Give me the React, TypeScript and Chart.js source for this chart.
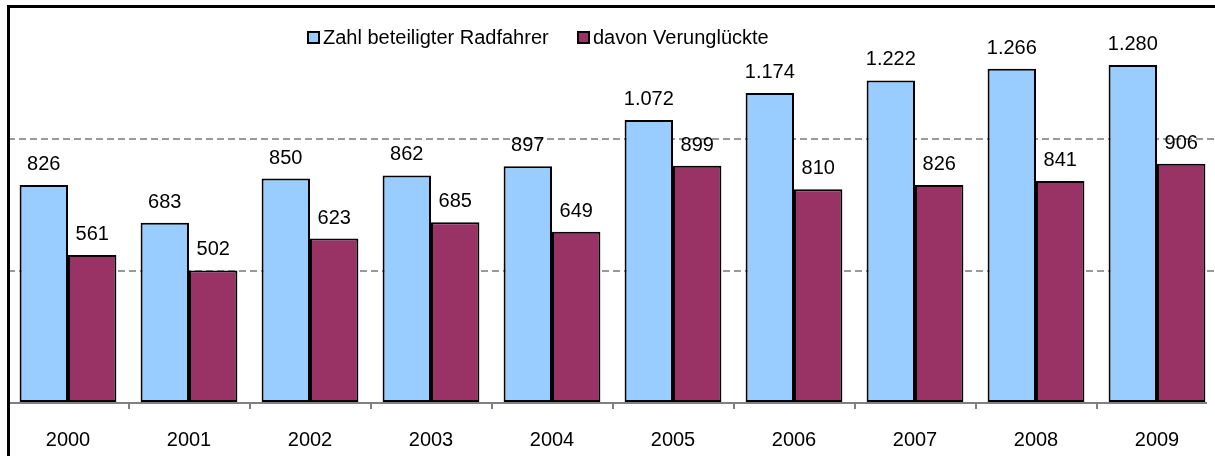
import React, { useEffect, useRef } from "react";
import { Chart, registerables } from "chart.js";

Chart.register(...registerables);

// ---- data ----
const years = ["2000", "2001", "2002", "2003", "2004", "2005", "2006", "2007", "2008", "2009"];
const radfahrer = [826, 683, 850, 862, 897, 1072, 1174, 1222, 1266, 1280];
const verunglueckte = [561, 502, 623, 685, 649, 899, 810, 826, 841, 906];
const seriesNames = ["Zahl beteiligter Radfahrer", "davon Verunglückte"];
const yMax = 1500;
const yStep = 500;

// ---- style ----
const FONT = "'Liberation Sans', Arial, Helvetica, sans-serif";
const FONT_SIZE = 20;
const BLUE = "#99CCFF";
const PURPLE = "#993366";

function fmt(v: number): string {
  return String(v).replace(/\B(?=(\d{3})+(?!\d))/g, ".");
}

const valueLabelPlugin = {
  id: "valueLabels",
  afterDatasetsDraw(chart: any) {
    const ctx = chart.ctx;
    ctx.save();
    ctx.font = `${FONT_SIZE}px ${FONT}`;
    ctx.fillStyle = "#000";
    ctx.textAlign = "center";
    ctx.textBaseline = "alphabetic";
    chart.data.datasets.forEach((ds: any, di: number) => {
      const meta = chart.getDatasetMeta(di);
      meta.data.forEach((bar: any, i: number) => {
        ctx.fillText(fmt(ds.data[i]), bar.x, bar.y - 15);
      });
    });
    ctx.restore();
  },
};

const legendPlugin = {
  id: "insideLegend",
  afterDraw(chart: any) {
    const ctx = chart.ctx;
    const items = [
      { x: 308, label: seriesNames[0], color: BLUE },
      { x: 578, label: seriesNames[1], color: PURPLE },
    ];
    const y = 37;
    ctx.save();
    ctx.font = `${FONT_SIZE}px ${FONT}`;
    ctx.textBaseline = "middle";
    ctx.textAlign = "left";
    items.forEach((it) => {
      ctx.fillStyle = it.color;
      ctx.fillRect(it.x, y - 5, 11, 11);
      ctx.strokeStyle = "#000";
      ctx.lineWidth = 2;
      ctx.strokeRect(it.x, y - 5, 11, 11);
      ctx.fillStyle = "#000";
      ctx.fillText(it.label, it.x + 15, y + 1);
    });
    ctx.restore();
  },
};

const framePlugin = {
  id: "frame",
  afterDraw(chart: any) {
    const ctx = chart.ctx;
    const area = chart.chartArea;
    ctx.save();
    // x axis line
    ctx.strokeStyle = "#808080";
    ctx.lineWidth = 2;
    ctx.beginPath();
    ctx.moveTo(area.left, area.bottom);
    ctx.lineTo(1207, area.bottom);
    ctx.stroke();
    // outer frame
    ctx.strokeStyle = "#000";
    ctx.lineWidth = 3;
    ctx.beginPath();
    ctx.moveTo(8.5, 460);
    ctx.lineTo(8.5, 6.5);
    ctx.lineTo(1220, 6.5);
    ctx.stroke();
    ctx.restore();
  },
};

export default function App() {
  const canvasRef = useRef<HTMLCanvasElement | null>(null);

  useEffect(() => {
    const canvas = canvasRef.current;
    if (!canvas) return;
    const chart = new Chart(canvas, {
      type: "bar",
      data: {
        labels: years,
        datasets: [
          {
            label: seriesNames[0],
            data: radfahrer,
            backgroundColor: BLUE,
            borderColor: "#000",
            borderWidth: 2,
            borderSkipped: false,
            categoryPercentage: 0.8,
            barPercentage: 1.0,
          },
          {
            label: seriesNames[1],
            data: verunglueckte,
            backgroundColor: PURPLE,
            borderColor: "#000",
            borderWidth: 2,
            borderSkipped: false,
            categoryPercentage: 0.8,
            barPercentage: 1.0,
          },
        ],
      },
      options: {
        responsive: false,
        animation: false,
        devicePixelRatio: 1,
        layout: { padding: { left: 7.5, right: 0.5, top: 7, bottom: 0 } },
        plugins: {
          legend: { display: false },
          tooltip: { enabled: false },
        },
        scales: {
          x: {
            offset: true,
            grid: {
              display: true,
              offset: true,
              drawOnChartArea: false,
              drawTicks: true,
              tickLength: 6,
              color: "#808080",
              lineWidth: 2,
            },
            border: { display: false },
            ticks: {
              color: "#000",
              font: { family: FONT, size: FONT_SIZE },
              padding: 19,
              maxRotation: 0,
              autoSkip: false,
            },
            afterFit: (s: any) => {
              s.height = 53;
            },
          },
          y: {
            min: 0,
            max: yMax,
            ticks: { stepSize: yStep, display: false },
            grid: {
              color: (c: any) =>
                c.tick && c.tick.value > 0 && c.tick.value < yMax ? "#999999" : "rgba(0,0,0,0)",
              lineWidth: 2,
              drawTicks: false,
            },
            border: { display: false, dash: [7, 4] },
            afterFit: (s: any) => {
              s.width = 0;
            },
          },
        },
      },
      plugins: [valueLabelPlugin, legendPlugin, framePlugin],
    } as any);
    return () => chart.destroy();
  }, []);

  return (
    <div
      style={{
        position: "absolute",
        left: 0,
        top: 0,
        width: 1215,
        height: 456,
        overflow: "hidden",
        background: "#fff",
      }}
    >
      <canvas ref={canvasRef} width={1218} height={456} style={{ display: "block" }} />
    </div>
  );
}
